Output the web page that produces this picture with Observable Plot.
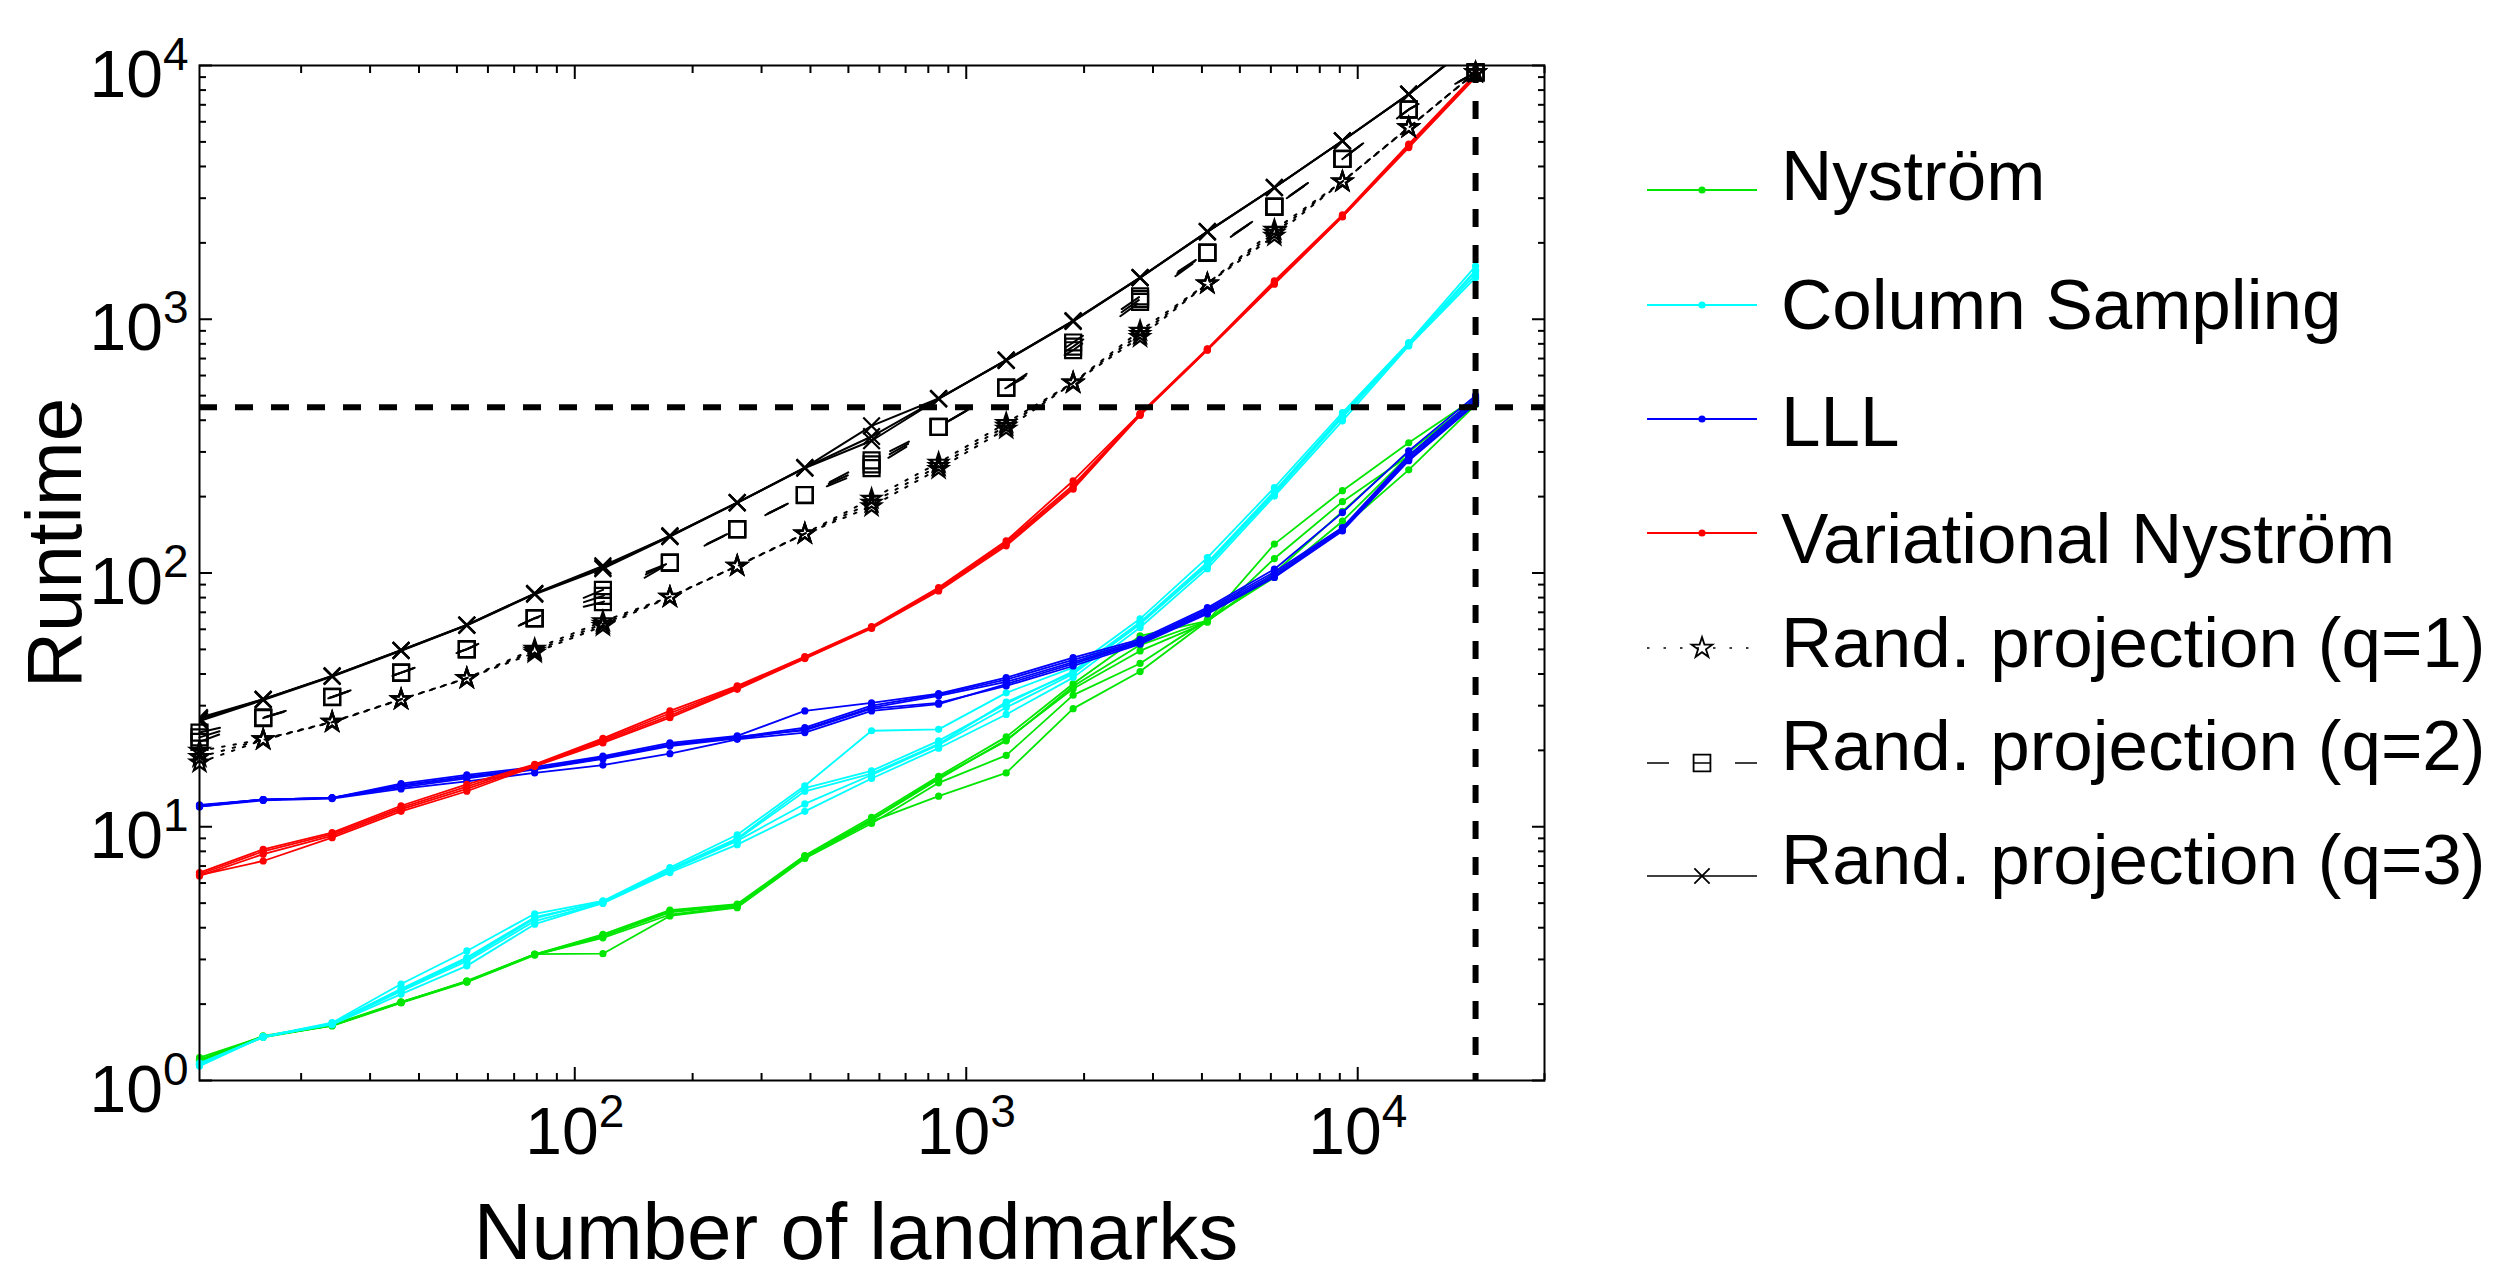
<!DOCTYPE html>
<html><head><meta charset="utf-8">
<script src="https://cdn.jsdelivr.net/npm/d3@7"></script>
<script src="https://cdn.jsdelivr.net/npm/@observablehq/plot@0.6"></script>
<style>
html,body{margin:0;padding:0;background:#fff;overflow:hidden;}
#wrap{position:relative;width:2517px;height:1282px;font-family:"Liberation Sans",Arial,Helvetica,sans-serif;}
#chart{position:absolute;left:0;top:0;}
#legend{position:absolute;left:1600px;top:0;}
</style></head><body>
<div id="wrap"><div id="chart"></div><svg id="legend" width="917" height="1282"></svg></div>
<script>
// ---------- data ----------
const landmarks = [11,16,24,36,53,79,118,175,260,387,573,850,1265,1875,2780,4130,6125,9140,13500,20000];

const nystromRuns = [
  [1.23,1.49,1.65,2.03,2.45,3.14,3.77,4.69,4.96,7.7,10.9,15.8,22.6,36.6,56.5,64.7,130,211,326,490],
  [1.20,1.49,1.64,2.02,2.44,3.12,3.70,4.60,4.90,7.6,10.6,15.4,22.0,35.0,49.3,64.0,114,191,290,480],
  [1.17,1.48,1.65,2.03,2.46,3.15,3.16,4.45,4.80,7.5,10.3,14.9,19.1,33.0,44.0,65.5,96,160,290,470],
  [1.19,1.50,1.66,2.04,2.45,3.13,3.65,4.50,4.85,7.55,10.5,13.2,16.3,29.2,40.9,64.7,98,151,255,460],
  [1.21,1.49,1.65,2.03,2.47,3.14,3.72,4.65,4.92,7.65,10.7,15.6,21.8,35.8,52,64.7,100,175,300,485]
];
const columnSamplingRuns = [
  [1.16,1.49,1.69,2.40,3.24,4.54,5.1,6.9,9.3,14.5,23.9,24.2,33.7,42.4,66,115,217,429,809,1620],
  [1.15,1.49,1.68,2.30,3.05,4.40,5.05,6.8,9.0,14.2,16.6,21.8,30.5,41,64,110,210,420,800,1560],
  [1.17,1.48,1.67,2.25,2.95,4.25,5.0,6.7,8.8,12.3,16.0,21.0,29.5,40,63,107,205,410,795,1500],
  [1.14,1.49,1.66,2.19,2.83,4.13,5.0,6.6,8.5,11.5,15.5,20.4,27.7,38.7,61,104,201,398,785,1460],
  [1.16,1.49,1.68,2.28,3.00,4.35,5.08,6.75,8.9,13.8,16.2,21.2,31,40.5,63,108,208,415,802,1540]
];
const lllRuns = [
  [12.2,12.8,13.0,14.8,16.0,17.2,19.0,21.4,22.8,28.6,30.8,33.5,38.7,46.4,54.8,73,103.5,173,303,500],
  [12.0,12.8,13.0,14.6,15.8,17.0,18.8,21.0,22.5,24.6,30.0,33.2,38.0,45.5,54,72,101,151,290,490],
  [12.1,12.8,13.0,14.3,15.5,16.8,18.5,20.8,22.3,24.2,29.5,32.8,37.2,44.5,53.5,71,99,149,285,480],
  [12.0,12.7,12.9,14.1,15.1,16.3,17.5,19.4,22.1,23.5,28.6,30.4,36.5,43.8,53,70,97,148,280,470],
  [12.1,12.8,13.0,14.5,15.7,16.9,18.6,21.1,22.6,24.0,29.2,30.8,35.9,43,52.4,69,96,146.5,277,463]
];
const variationalRuns = [
  [6.6,8.15,9.48,12.1,14.7,17.6,22.3,28.6,35.9,46.8,61.5,87.6,134,231,425,765,1416,2580,4900,9250],
  [6.5,8.0,9.35,11.9,14.4,17.5,22.0,28.0,35.5,46.4,61,86.5,132,222,423,762,1400,2557,4850,9150],
  [6.4,7.8,9.2,11.7,14.1,17.4,21.7,27.4,35.2,46.2,60.9,85.8,130,218,420,758,1390,2540,4800,9050],
  [6.45,7.33,9.06,11.5,13.8,17.3,21.4,26.9,34.8,46,60.5,85,128,214,418,755,1375,2530,4750,8970]
];
const randProjQ1Runs = [
  [19.9,22.1,25.9,31.8,38.5,50.2,64.5,80.5,106.7,143,196,272,390,563,900,1383,2250,3490,5700,9390],
  [18.8,22.1,25.9,31.8,38.5,49.3,63.1,80.5,106.7,143,189,264,380,563,873,1383,2190,3490,5700,9390],
  [17.9,22.0,25.8,31.7,38.4,48.5,61.8,80.3,106.5,142.5,183,257,370,560,850,1380,2130,3480,5690,9390]
];
const randProjQ2Runs = [
  [23.5,26.9,32.5,40.5,50.1,66.4,85.8,110,149,203,278,377,538,810,1230,1833,2780,4290,6710,9390],
  [22.5,26.9,32.5,40.5,50.1,66.4,81.2,110,149,203,268,377,538,780,1200,1833,2780,4290,6710,9390],
  [21.6,26.8,32.4,40.4,50,66.2,76.8,109.5,148.5,202.5,259,376,537,755,1170,1825,2770,4280,6700,9390]
];
const randProjQ3Runs = [
  [26.9,31.8,39.3,49.6,62.4,83,106.7,140,189.5,260,380,487,690,986,1460,2216,3305,5050,7710,12500],
  [26.5,31.8,39.3,49.6,62.4,83,105,140,189.5,260,345,487,690,986,1460,2216,3305,5050,7710,12500],
  [26.1,31.6,39.1,49.4,62.2,82.5,104,139,189,259,332,485,688,980,1455,2210,3300,5040,7700,12400]
];

const methods = ["Nyström","Column Sampling","LLL","Variational Nyström","Rand. projection (q=1)","Rand. projection (q=2)","Rand. projection (q=3)"];
const methodColors = ["#00e600","#00ffff","#0000ff","#ff0000","#000000","#000000","#000000"];

const runtimeLimit = 450;      // horizontal dashed reference
const landmarkLimit = 20000;   // vertical dashed reference

const xMajorTicks = [100,1000,10000];
const xMinorTicks = [20,30,40,50,60,70,80,90,200,300,400,500,600,700,800,900,2000,3000,4000,5000,6000,7000,8000,9000,20000,30000];
const yMajorTicks = [1,10,100,1000,10000];
const yMinorTicks = [2,3,4,5,6,7,8,9,20,30,40,50,60,70,80,90,200,300,400,500,600,700,800,900,2000,3000,4000,5000,6000,7000,8000,9000];

// ---------- tidy tables ----------
function tidy(runs, method) {
  return runs.flatMap((run, r) => run.map((t, i) => ({method, run: method + "#" + r, n: landmarks[i], t})));
}
const dNys = tidy(nystromRuns, methods[0]);
const dCol = tidy(columnSamplingRuns, methods[1]);
const dLLL = tidy(lllRuns, methods[2]);
const dVar = tidy(variationalRuns, methods[3]);
const dQ1 = tidy(randProjQ1Runs, methods[4]);
const dQ2 = tidy(randProjQ2Runs, methods[5]);
const dQ3 = tidy(randProjQ3Runs, methods[6]);

const DASH_Q1 = "2.5,9", DASH_Q2 = "21,47";

function coloured(data, color) {
  return [
    Plot.line(data, {x: "n", y: "t", z: "run", stroke: color, strokeWidth: 1.8}),
    Plot.dot(data, {x: "n", y: "t", r: 3.6, fill: color, stroke: "none"})
  ];
}

const chart = Plot.plot({
  width: 1600, height: 1282,
  marginLeft: 199, marginRight: 56, marginTop: 65, marginBottom: 202,
  x: {type: "log", domain: [11, 30000]},
  y: {type: "log", domain: [1, 10000]},
  style: {fontFamily: "'Liberation Sans', Arial, Helvetica, sans-serif", background: "white", color: "black", overflow: "visible"},
  marks: [
    ...coloured(dNys, methodColors[0]),
    ...coloured(dCol, methodColors[1]),
    ...coloured(dLLL, methodColors[2]),
    ...coloured(dVar, methodColors[3]),
    Plot.line(dQ1, {x: "n", y: "t", z: "run", stroke: "black", strokeWidth: 2, strokeDasharray: DASH_Q1}),
    Plot.dot(dQ1, {x: "n", y: "t", symbol: "star", r: 5.8, fill: "none", stroke: "black", strokeWidth: 2.2}),
    Plot.line(dQ2, {x: "n", y: "t", z: "run", stroke: "black", strokeWidth: 2, strokeDasharray: DASH_Q2}),
    Plot.dot(dQ2, {x: "n", y: "t", symbol: "square", r: 9, fill: "none", stroke: "black", strokeWidth: 2.2}),
    Plot.line(dQ3, {x: "n", y: "t", z: "run", stroke: "black", strokeWidth: 2, clip: true}),
    Plot.dot(dQ3, {x: "n", y: "t", symbol: "times", r: 7.6, stroke: "black", strokeWidth: 2.2, clip: true}),
    Plot.ruleY([runtimeLimit], {stroke: "black", strokeWidth: 6, strokeDasharray: "18,18"}),
    Plot.ruleX([landmarkLimit], {stroke: "black", strokeWidth: 6, strokeDasharray: "18,18"}),
    // inward tick marks on all four sides
    Plot.axisX({anchor: "bottom", ticks: xMajorTicks, tickSize: -13, fill: "none", strokeWidth: 2}),
    Plot.axisX({anchor: "bottom", ticks: xMinorTicks, tickSize: -7, fill: "none", strokeWidth: 2}),
    Plot.axisX({anchor: "top", ticks: xMajorTicks, tickSize: -13, fill: "none", strokeWidth: 2}),
    Plot.axisX({anchor: "top", ticks: xMinorTicks, tickSize: -7, fill: "none", strokeWidth: 2}),
    Plot.axisY({anchor: "left", ticks: yMajorTicks, tickSize: -13, fill: "none", strokeWidth: 2}),
    Plot.axisY({anchor: "left", ticks: yMinorTicks, tickSize: -7, fill: "none", strokeWidth: 2}),
    Plot.axisY({anchor: "right", ticks: yMajorTicks, tickSize: -13, fill: "none", strokeWidth: 2}),
    Plot.axisY({anchor: "right", ticks: yMinorTicks, tickSize: -7, fill: "none", strokeWidth: 2}),
    // tick labels
    Plot.axisX({anchor: "bottom", ticks: xMajorTicks, tickSize: 0, tickPadding: 27, fontSize: 66, label: null,
      tickFormat: d => "10^" + Math.round(Math.log10(d))}),
    Plot.axisY({anchor: "left", ticks: yMajorTicks, tickSize: 0, tickPadding: 11, fontSize: 66, label: null, dy: 10,
      tickFormat: d => "10^" + Math.round(Math.log10(d))}),
    // axis titles
    Plot.text(["Number of landmarks"], {frameAnchor: "bottom", textAnchor: "middle", lineAnchor: "bottom", dy: 178, dx: -16, fontSize: 80, fill: "black"}),
    Plot.text(["Runtime"], {frameAnchor: "left", textAnchor: "middle", lineAnchor: "bottom", rotate: -90, dx: -119, dy: -30, fontSize: 78, fill: "black"}),
    Plot.frame({stroke: "black", strokeWidth: 2})
  ]
});
document.getElementById("chart").appendChild(chart);

// superscript exponents on the tick labels
chart.querySelectorAll('g[aria-label="x-axis tick label"] text, g[aria-label="y-axis tick label"] text').forEach(t => {
  const m = (t.textContent || "").match(/^10\^(\d+)$/);
  if (!m) return;
  t.textContent = "10";
  const ts = document.createElementNS("http://www.w3.org/2000/svg", "tspan");
  ts.setAttribute("dy", "-27");
  ts.setAttribute("font-size", "46");
  ts.textContent = m[1];
  t.appendChild(ts);
});

// ---------- legend ----------
const legendLineY = [190, 305, 419, 533, 648, 763, 876];
const legendTextY = [200, 329, 446, 563, 667, 770, 884];
const legendDash = [null, null, null, null, "2.5,14", "22,24,18,24,22", null];
const legendSymbol = ["dot", "dot", "dot", "dot", "star", "square", "times"];
const leg = d3.select("#legend");
methods.forEach((name, i) => {
  const g = leg.append("g");
  const ln = g.append("line").attr("x1", 47).attr("x2", 157).attr("y1", legendLineY[i]).attr("y2", legendLineY[i])
    .attr("stroke", methodColors[i]).attr("stroke-width", i < 4 ? 2 : 1.6);
  if (legendDash[i]) ln.attr("stroke-dasharray", legendDash[i]);
  const sym = legendSymbol[i];
  if (sym === "dot") {
    g.append("circle").attr("cx", 102).attr("cy", legendLineY[i]).attr("r", 3.6).attr("fill", methodColors[i]);
  } else {
    const type = sym === "star" ? d3.symbolStar : sym === "square" ? d3.symbolSquare : d3.symbolTimes;
    const size = sym === "star" ? Math.PI * 6.5 * 6.5 : sym === "square" ? Math.PI * 9.5 * 9.5 : Math.PI * 7 * 7;
    g.append("path").attr("d", d3.symbol(type, size)()).attr("transform", `translate(102,${legendLineY[i]})`)
      .attr("fill", "none").attr("stroke", "black").attr("stroke-width", 1.8);
  }
  g.append("text").attr("x", 181).attr("y", legendTextY[i]).attr("font-size", 71)
    .attr("font-family", "'Liberation Sans', Arial, Helvetica, sans-serif").attr("fill", "black").text(name);
});
</script>
</body></html>
